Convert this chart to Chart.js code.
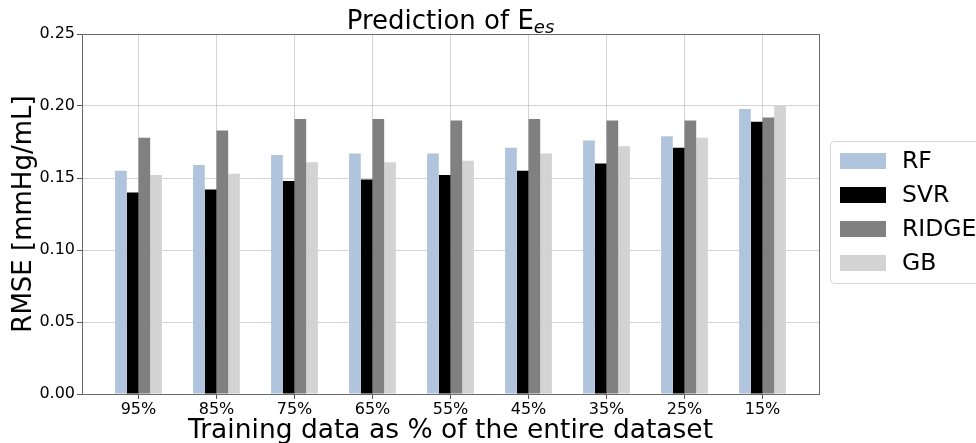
<!DOCTYPE html>
<html>
<head>
<meta charset="utf-8">
<script src="https://cdn.jsdelivr.net/npm/chart.js@4"></script>
<style>
  html, body { margin: 0; padding: 0; background: #fff; overflow: hidden; }
  #wrap { width: 976px; height: 443px; }
</style>
</head>
<body>
<div id="wrap"><canvas id="c" width="976" height="443"></canvas></div>
<script>
// Training-set share (x categories)
const categories = ['95%', '85%', '75%', '65%', '55%', '45%', '35%', '25%', '15%'];

// RMSE per model [mmHg/mL]
const rf    = [0.155, 0.159, 0.166, 0.167, 0.167, 0.171, 0.176, 0.179, 0.198];
const svr   = [0.140, 0.142, 0.148, 0.149, 0.152, 0.155, 0.160, 0.171, 0.189];
const ridge = [0.178, 0.183, 0.191, 0.191, 0.190, 0.191, 0.190, 0.190, 0.192];
const gb    = [0.152, 0.153, 0.161, 0.161, 0.162, 0.167, 0.172, 0.178, 0.200];

const modelNames = ['RF', 'SVR', 'RIDGE', 'GB'];
const modelColors = ['#b0c4de', '#000000', '#808080', '#d3d3d3'];
const yTicks = [0, 0.05, 0.10, 0.15, 0.20, 0.25];

const FONT = '"DejaVu Sans", "Liberation Sans", sans-serif';
Chart.defaults.font.family = FONT;
Chart.defaults.color = '#000';

const seriesValues = [rf, svr, ridge, gb];
const datasets = seriesValues.map((vals, k) => ({
  label: modelNames[k],
  data: vals.map((v, i) => ({ x: i, y: v })),
  backgroundColor: modelColors[k],
  borderWidth: 0,
  categoryPercentage: 0.6,
  barPercentage: 1.0
}));

// Title with subscript, drawn above the plot frame
const titlePlugin = {
  id: 'subTitle',
  afterDraw(chart) {
    const ctx = chart.ctx, a = chart.chartArea;
    const main = 'Prediction of E', sub = 'es';
    ctx.save();
    ctx.fillStyle = '#000';
    ctx.textAlign = 'left';
    ctx.textBaseline = 'alphabetic';
    ctx.font = '26px ' + FONT;
    const w1 = ctx.measureText(main).width;
    ctx.font = 'italic 18px ' + FONT;
    const w2 = ctx.measureText(sub).width;
    const x0 = (a.left + a.right) / 2 - (w1 + w2) / 2;
    ctx.font = '26px ' + FONT;
    ctx.fillText(main, x0, 29);
    ctx.font = 'italic 18px ' + FONT;
    ctx.fillText(sub, x0 + w1, 33);
    ctx.restore();
  }
};

// Four-sided axes frame
const framePlugin = {
  id: 'frame',
  afterDraw(chart) {
    const ctx = chart.ctx, a = chart.chartArea;
    ctx.save();
    ctx.strokeStyle = '#6a6a6a';
    ctx.lineWidth = 1;
    ctx.strokeRect(Math.round(a.left) + 0.5, Math.round(a.top) + 0.5,
                   Math.round(a.right - a.left), Math.round(a.bottom - a.top));
    ctx.restore();
  }
};

// Boxed legend at the right
const legendPlugin = {
  id: 'boxLegend',
  afterDraw(chart) {
    const ctx = chart.ctx;
    const bx = 830.5, by = 141.5, bw = 170, bh = 142, r = 4;
    ctx.save();
    ctx.beginPath();
    ctx.moveTo(bx + r, by);
    ctx.lineTo(bx + bw - r, by);
    ctx.arcTo(bx + bw, by, bx + bw, by + r, r);
    ctx.lineTo(bx + bw, by + bh - r);
    ctx.arcTo(bx + bw, by + bh, bx + bw - r, by + bh, r);
    ctx.lineTo(bx + r, by + bh);
    ctx.arcTo(bx, by + bh, bx, by + bh - r, r);
    ctx.lineTo(bx, by + r);
    ctx.arcTo(bx, by, bx + r, by, r);
    ctx.closePath();
    ctx.fillStyle = 'rgba(255,255,255,0.8)';
    ctx.fill();
    ctx.strokeStyle = '#d6d6d6';
    ctx.lineWidth = 1;
    ctx.stroke();

    ctx.font = '23.5px ' + FONT;
    ctx.textBaseline = 'middle';
    ctx.textAlign = 'left';
    chart.data.datasets.forEach((ds, k) => {
      const cy = 161 + k * 34;
      ctx.fillStyle = ds.backgroundColor;
      ctx.fillRect(840, cy - 8, 46, 16);
      ctx.fillStyle = '#000';
      ctx.fillText(ds.label, 902, cy + 1);
    });
    ctx.restore();
  }
};

new Chart(document.getElementById('c'), {
  type: 'bar',
  data: { datasets },
  options: {
    responsive: false,
    animation: false,
    layout: { padding: { top: 34, right: 157, left: 0, bottom: 0 } },
    plugins: {
      legend: { display: false },
      title: { display: false },
      tooltip: { enabled: false }
    },
    scales: {
      x: {
        type: 'linear',
        min: -0.724,
        max: 8.724,
        offset: false,
        z: 1,
        afterBuildTicks: s => { s.ticks = categories.map((_, i) => ({ value: i })); },
        afterFit: s => { s.height = 49; },
        ticks: {
          autoSkip: false,
          maxRotation: 0,
          padding: 1,
          font: { size: 16 },
          color: '#000',
          callback: v => categories[Math.round(v)]
        },
        grid: {
          offset: false,
          color: 'rgba(176,176,176,0.55)',
          lineWidth: 1,
          drawTicks: true,
          tickLength: 5,
          tickColor: '#555'
        },
        border: { display: false },
        title: {
          display: true,
          text: 'Training data as % of the entire dataset',
          font: { size: 26.5, lineHeight: 0.88 },
          color: '#000',
          padding: { top: 0, bottom: 0 }
        }
      },
      y: {
        min: 0,
        max: 0.25,
        z: 1,
        afterBuildTicks: s => { s.ticks = yTicks.map(v => ({ value: v })); },
        afterFit: s => { s.width = 82; },
        ticks: {
          padding: 2,
          font: { size: 16 },
          color: '#000',
          callback: v => Number(v).toFixed(2)
        },
        grid: {
          color: 'rgba(176,176,176,0.55)',
          lineWidth: 1,
          drawTicks: true,
          tickLength: 5,
          tickColor: '#555'
        },
        border: { display: false },
        title: {
          display: true,
          text: 'RMSE [mmHg/mL]',
          font: { size: 26, lineHeight: 1.2 },
          color: '#000',
          padding: { top: 9, bottom: 0 }
        }
      }
    }
  },
  plugins: [titlePlugin, framePlugin, legendPlugin]
});
</script>
</body>
</html>
